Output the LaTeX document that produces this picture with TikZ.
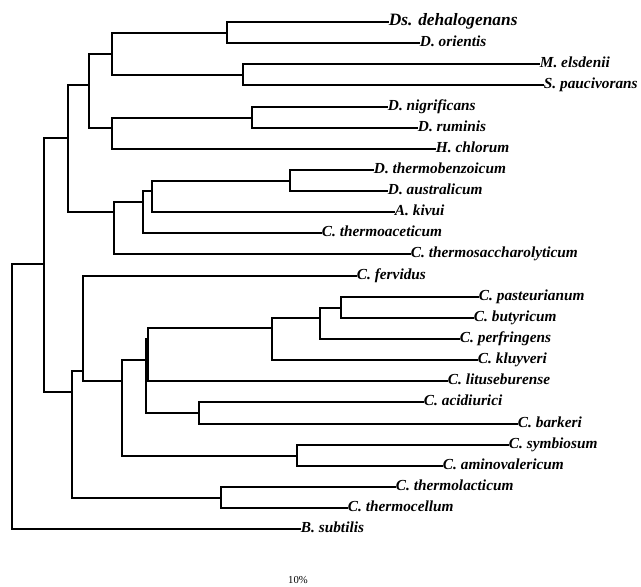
\documentclass[tikz,border=0pt]{standalone}
\usepackage{fontspec}
\setmainfont{Liberation Serif}
\usetikzlibrary{positioning,calc}

\begin{document}
\begin{tikzpicture}[
    x=0.75pt, y=-0.75pt,
    every node/.style={font=\bfseries\itshape\fontsize{11.5}{13}\selectfont},
    taxon/.style={
        anchor=west, inner sep=0.5pt,
        text height=8pt, text depth=3pt
    },
    branch/.style={line width=1.5pt, line cap=rect},
    scalelabel/.style={
        font=\mdseries\upshape\fontsize{8}{9}\selectfont, inner sep=0pt
    },
]
\useasboundingbox (0,0) rectangle (641,586);

% === Taxa (leaves) ===
\node[taxon, font=\bfseries\itshape\fontsize{13}{15}\selectfont] (dsdeh) at (388,22) {Ds. dehalogenans};
\node[taxon] (dorie) at (419,43) {D. orientis};
\node[taxon] (melsd) at (539,64) {M. elsdenii};
\node[taxon] (spauc) at (543,85) {S. paucivorans};
\node[taxon] (dnigr) at (387,107) {D. nigrificans};
\node[taxon] (drumi) at (417,128) {D. ruminis};
\node[taxon] (hchlo) at (435,149) {H. chlorum};
\node[taxon] (dthbz) at (373,170) {D. thermobenzoicum};
\node[taxon] (daust) at (387,191) {D. australicum};
\node[taxon] (akivu) at (394,212) {A. kivui};
\node[taxon] (cthac) at (321,233) {C. thermoaceticum};
\node[taxon] (cthsa) at (410,254) {C. thermosaccharolyticum};
\node[taxon] (cferv) at (356,276) {C. fervidus};
\node[taxon] (cpast) at (478,297) {C. pasteurianum};
\node[taxon] (cbuty) at (473,318) {C. butyricum};
\node[taxon] (cperf) at (459,339) {C. perfringens};
\node[taxon] (ckluy) at (477,360) {C. kluyveri};
\node[taxon] (clitu) at (447,381) {C. lituseburense};
\node[taxon] (cacid) at (423,402) {C. acidiurici};
\node[taxon] (cbark) at (517,424) {C. barkeri};
\node[taxon] (csymb) at (508,445) {C. symbiosum};
\node[taxon] (camin) at (442,466) {C. aminovalericum};
\node[taxon] (cthla) at (395,487) {C. thermolacticum};
\node[taxon] (cthce) at (347,508) {C. thermocellum};
\node[taxon] (bsubt) at (300,529) {B. subtilis};

% === Branch points ===
\coordinate (n1) at (227,33);
\coordinate (n2) at (243,75);
\coordinate (n3) at (112,54);
\coordinate (n4) at (252,118);
\coordinate (n5) at (112,128);
\coordinate (n6) at (89,85);
\coordinate (n7) at (290,181);
\coordinate (n8) at (152,191);
\coordinate (n9) at (143,202);
\coordinate (n10) at (114,212);
\coordinate (n11) at (68,138);
\coordinate (n12) at (341,308);
\coordinate (n13) at (320,318);
\coordinate (n14) at (272,328);
\coordinate (n15) at (148,339);
\coordinate (n16) at (199,413);
\coordinate (n17) at (146,360);
\coordinate (n18) at (297,456);
\coordinate (n19) at (122,381);
\coordinate (n20) at (83,371);
\coordinate (n21) at (221,498);
\coordinate (n22) at (72,392);
\coordinate (n23) at (44,264);
\coordinate (root) at (12,396);

% === Upper clade ===
\draw[branch] (n1) |- (dsdeh.west);
\draw[branch] (n1) |- (dorie.west);
\draw[branch] (n2) |- (melsd.west);
\draw[branch] (n2) |- (spauc.west);
\draw[branch] (n3) |- (n1);
\draw[branch] (n3) |- (n2);
\draw[branch] (n4) |- (dnigr.west);
\draw[branch] (n4) |- (drumi.west);
\draw[branch] (n5) |- (n4);
\draw[branch] (n5) |- (hchlo.west);
\draw[branch] (n6) |- (n3);
\draw[branch] (n6) |- (n5);
\draw[branch] (n7) |- (dthbz.west);
\draw[branch] (n7) |- (daust.west);
\draw[branch] (n8) |- (n7);
\draw[branch] (n8) |- (akivu.west);
\draw[branch] (n9) |- (n8);
\draw[branch] (n9) |- (cthac.west);
\draw[branch] (n10) |- (n9);
\draw[branch] (n10) |- (cthsa.west);
\draw[branch] (n11) |- (n6);
\draw[branch] (n11) |- (n10);

% === Lower clade ===
\draw[branch] (n12) |- (cpast.west);
\draw[branch] (n12) |- (cbuty.west);
\draw[branch] (n13) |- (n12);
\draw[branch] (n13) |- (cperf.west);
\draw[branch] (n14) |- (n13);
\draw[branch] (n14) |- (ckluy.west);
\draw[branch] (n15) |- (n14);
\draw[branch] (n15) |- (clitu.west);
\draw[branch] (n16) |- (cacid.west);
\draw[branch] (n16) |- (cbark.west);
\draw[branch] (n17) |- (n15);
\draw[branch] (n17) |- (n16);
\draw[branch] (n18) |- (csymb.west);
\draw[branch] (n18) |- (camin.west);
\draw[branch] (n19) |- (n17);
\draw[branch] (n19) |- (n18);
\draw[branch] (n20) |- (cferv.west);
\draw[branch] (n20) |- (n19);
\draw[branch] (n21) |- (cthla.west);
\draw[branch] (n21) |- (cthce.west);
\draw[branch] (n22) |- (n20);
\draw[branch] (n22) |- (n21);

% === Root ===
\draw[branch] (n23) |- (n11);
\draw[branch] (n23) |- (n22);
\draw[branch] (root) |- (n23);
\draw[branch] (root) |- (bsubt.west);

% Scale
\node[scalelabel] (scale) at (298,580) {10\%};

\end{tikzpicture}
\end{document}
